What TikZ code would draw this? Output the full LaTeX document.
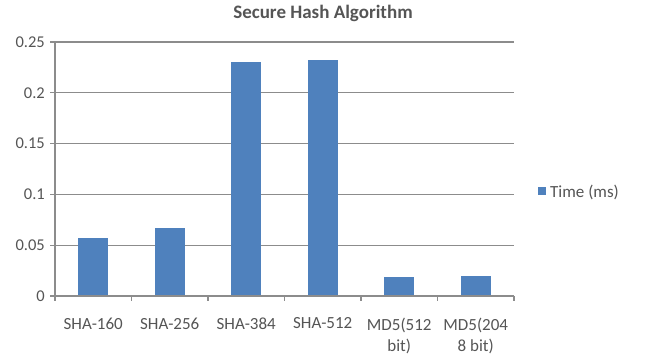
\documentclass[tikz,border=0pt]{standalone}
\usepackage{fontspec}
\setmainfont{Carlito}
\usepackage{xcolor}
\usetikzlibrary{positioning}
\definecolor{barblue}{HTML}{4F81BD}
\definecolor{gridgray}{HTML}{8C8C8C}
\definecolor{textgray}{HTML}{555555}
\tikzset{
  gridline/.style={draw=gridgray, line width=1.1pt},
  axisline/.style={draw=gridgray, line width=1.1pt},
  bar/.style={fill=barblue, draw=none},
  ticklab/.style={text=textgray, font=\fontsize{16.5}{18}\selectfont, anchor=east, inner sep=0pt},
  catlab/.style={text=textgray, font=\fontsize{17}{21}\selectfont, anchor=north, align=center, inner sep=0pt},
  titlelab/.style={text=textgray, font=\fontsize{19}{21}\selectfont\bfseries, inner sep=0pt},
}

\begin{document}
\begin{tikzpicture}[x=1pt, y=-1pt]
  \useasboundingbox (0,0) rectangle (650,356);
  \def\xl{55}
  \def\xr{514}
  \def\yb{296}
  \def\unit{1016}
  \def\cw{76.5}
  \def\bw{30}

  % title
  \node[titlelab] (title) at (323,13) {Secure Hash Algorithm};

  % gridlines and value labels
  \foreach \v/\t in {1/0.05, 2/0.1, 3/0.15, 4/0.2, 5/0.25} {
    \draw[gridline] (\xl-5, \yb-50.8*\v) -- (\xr, \yb-50.8*\v);
    \node[ticklab] (tick\v) at (45, \yb-50.8*\v) {\t};
  }
  \node[ticklab] (tick0) at (45, \yb) {0};

  % bars
  \foreach \i/\val in {1/0.057, 2/0.067, 3/0.230, 4/0.232, 5/0.0187, 6/0.0197} {
    \fill[bar] (\xl+\cw*\i-\cw/2-\bw/2, \yb) rectangle (\xl+\cw*\i-\cw/2+\bw/2, \yb-\unit*\val);
  }

  % axes
  \draw[axisline] (\xl-5, \yb) -- (\xr, \yb);
  \draw[axisline] (\xl, 42.2) -- (\xl, \yb+5);
  \foreach \i in {1,...,6} {
    \draw[axisline] (\xl+\cw*\i, \yb) -- (\xl+\cw*\i, \yb+5);
  }

  % category labels
  \foreach \i/\name in {1/SHA-160, 2/SHA-256, 3/SHA-384, 4/SHA-512, 5/{MD5(512\\bit)}, 6/{MD5(204\\8 bit)}} {
    \node[catlab] (cat\i) at (\xl+\cw*\i-\cw/2, 317.5) {\name};
  }

  % legend
  \fill[bar] (538,187) rectangle (546,195);
  \node[text=textgray, font=\fontsize{17}{19}\selectfont, anchor=west, inner sep=0pt] (legend) at (550,192) {Time (ms)};
\end{tikzpicture}
\end{document}
